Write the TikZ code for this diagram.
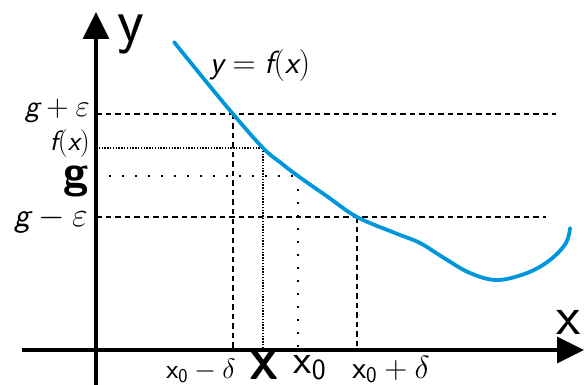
\RequirePackage{fix-cm}
\documentclass[tikz,border=0pt]{standalone}
\usepackage{amsmath,amssymb}
\usepackage{tikz}
\usetikzlibrary{arrows.meta}
\definecolor{CurveBlue}{RGB}{0,150,220}
\newcommand{\sv}[1]{\textsf{\itshape #1}}
\newcommand{\su}[1]{\textsf{#1}}
\tikzset{
  axis/.style={draw=black,line width=3.5pt,-{Triangle[length=27pt,width=26pt]}},
  curve/.style={draw=CurveBlue,line width=3.8pt,line cap=round},
  gapline/.style={draw=black,line width=1.8pt,dash pattern=on 5.5pt off 4pt},
  fineline/.style={draw=black,line width=1.8pt,dash pattern=on 1.4pt off 1.4pt},
  dotline/.style={draw=black,line width=2pt,dash pattern=on 2pt off 11pt},
  lbl/.style={inner sep=0pt},
}

\begin{document}
\begin{tikzpicture}[x=1pt,y=-1pt]
\useasboundingbox (0,0) rectangle (584,385);
% axes
\coordinate (xs) at (22,350);
\coordinate (xe) at (584,350);
\coordinate (ys) at (96,385);
\coordinate (ye) at (96,12);
% points on the curve
\coordinate (pA) at (233,114);
\coordinate (pX) at (263,148);
\coordinate (p0) at (298,176);
\coordinate (pB) at (357,217);
% feet on the axes
\coordinate (yA) at (96,114);
\coordinate (yX) at (96,148);
\coordinate (y0) at (96,176);
\coordinate (yB) at (96,217);
\coordinate (xA) at (233,350);
\coordinate (xX) at (263,350);
\coordinate (x0) at (298,350);
\coordinate (xB) at (357,350);
\coordinate (eA) at (556,114);
\coordinate (eB) at (546,217);
% guide lines
\draw[gapline] (yA) -- (eA);
\draw[gapline] (yB) -- (eB);
\draw[fineline] (yX) -- (pX);
\draw[dotline] (y0) -- (p0);
\draw[gapline] (pA) -- (xA);
\draw[fineline] (pX) -- (xX);
\draw[dotline] (p0) -- (x0);
\draw[gapline] (pB) -- (xB);
% the graph
\draw[curve] plot[smooth,tension=0.6] coordinates {(174,42) (204,79) (pA) (pX) (281,163) (p0) (328,197) (pB) (395,233) (420,243) (444,258) (470,273) (497,280) (527,273) (550,260) (566,243) (570,228)};
\draw[axis] (xs) -- (xe);
\draw[axis] (ys) -- (ye);
% labels
\node[lbl,font=\fontsize{62}{66}\selectfont] (ylab) at (131,34) {\su{y}};
\node[lbl,font=\fontsize{56}{60}\selectfont] (xlab) at (569,322) {\su{x}};
\node[lbl,anchor=base,font=\fontsize{32}{36}\selectfont] (flab) at (260,74) {$\sv{y}=\sv{f}(\sv{x})$};
\node[lbl,anchor=base east,font=\fontsize{31}{34}\selectfont] (gplus) at (90,117) {$\sv{g}+\varepsilon$};
\node[lbl,anchor=base east,font=\fontsize{28}{32}\selectfont] (fx) at (90,151) {$\sv{f}(\sv{x})$};
\node[lbl,anchor=base east,font=\fontsize{46}{50}\selectfont] (g) at (89,188) {\su{\bfseries g}};
\node[lbl,anchor=base east,font=\fontsize{34}{38}\selectfont] (gminus) at (88,226) {$\sv{g}-\varepsilon$};
\node[lbl,anchor=base,font=\fontsize{28}{32}\selectfont] (xminus) at (201,378) {$\su{x}_{\su{0}}-\delta$};
\node[lbl,anchor=base,font=\fontsize{40}{44}\selectfont] (X) at (264,379) {\su{\bfseries X}};
\node[lbl,anchor=base,font=\fontsize{42}{46}\selectfont] (xnull) at (310,373) {$\su{x}_{\su{0}}$};
\node[lbl,anchor=base,font=\fontsize{32}{36}\selectfont] (xplus) at (391,378) {$\su{x}_{\su{0}}+\delta$};
\end{tikzpicture}
\end{document}
